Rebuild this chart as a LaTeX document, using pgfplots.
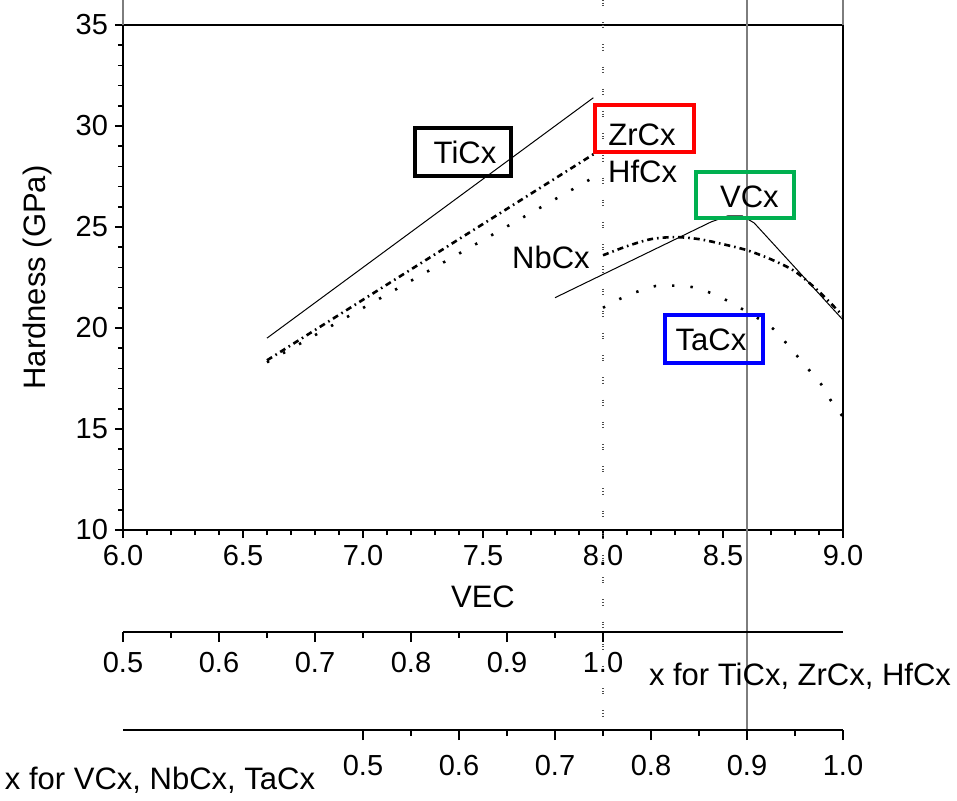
\documentclass[border=0pt]{standalone}
\usepackage{fontspec}
\setmainfont{Liberation Sans}
\usepackage{pgfplots}
\usepackage{pgfplotstable}
\pgfplotsset{compat=1.18}

\definecolor{boxred}{RGB}{255,0,0}
\definecolor{boxgreen}{RGB}{0,176,80}
\definecolor{boxblue}{RGB}{0,0,255}
\definecolor{refgray}{RGB}{125,125,125}

% Hardness vs. valence electron concentration (VEC)
\pgfplotstableread{
vec h
6.60 19.50
7.96 31.40
}\tic
\pgfplotstableread{
vec h
6.60 18.40
7.96 28.60
}\zrc
\pgfplotstableread{
vec h
6.60 18.30
7.96 27.45
}\hfc
\pgfplotstableread{
vec h
7.80 21.50
8.45 25.25
8.52 25.55
8.58 25.55
8.63 25.20
9.00 20.40
}\vc
\pgfplotstableread{
vec h
8.00 23.60
8.10 24.05
8.20 24.40
8.30 24.50
8.40 24.40
8.50 24.15
8.60 23.85
8.70 23.40
8.80 22.80
8.90 21.80
9.00 20.60
}\nbc
\pgfplotstableread{
vec h
8.00 21.00
8.07 21.44
8.15 21.83
8.22 22.08
8.29 22.10
8.37 22.03
8.45 21.73
8.52 21.34
8.58 20.94
8.65 20.45
8.71 19.95
8.76 19.30
8.81 18.60
8.86 17.90
8.91 17.20
8.95 16.40
9.00 15.60
}\tac

\pgfplotsset{
  dashdotline/.style={black, line width=1.3pt, dash pattern=on 3pt off 2pt on 0.8pt off 2pt},
  dotline/.style={black, line width=1.3pt, dash pattern=on 1.2pt off 8pt},
  thinline/.style={black, line width=0.5pt},
  xaux/.style={
    scale only axis, width=360pt, height=10pt, anchor=south west,
    ymin=0, ymax=1,
    axis x line*=bottom, axis y line=none,
    tick align=outside,
    major tick length=5pt, minor tick length=3pt,
    xtick={0.5,0.6,0.7,0.8,0.9,1.0},
    minor xtick={0.55,0.65,0.75,0.85,0.95},
    every tick/.style={black, line width=0.8pt},
    axis line style={line width=0.9pt},
    /pgf/number format/assume math mode=true,
    xticklabel style={font=\fontsize{14.5}{16}\selectfont,
      /pgf/number format/.cd, fixed, fixed zerofill, precision=1},
  },
}

\begin{document}
\begin{tikzpicture}[font=\fontsize{15.5}{18}\selectfont]
\begin{axis}[
  scale only axis, width=360pt, height=252.5pt,
  xmin=6, xmax=9, ymin=10, ymax=35,
  xtick={6,6.5,7,7.5,8,8.5,9}, minor x tick num=4,
  ytick={10,15,20,25,30,35}, minor y tick num=4,
  xtick pos=bottom, ytick pos=left, tick align=outside,
  major tick length=4pt, minor tick length=2.5pt,
  every tick/.style={black, line width=0.8pt},
  axis line style={line width=0.9pt},
  /pgf/number format/assume math mode=true,
  xticklabel style={font=\fontsize{14.5}{16}\selectfont,
    /pgf/number format/.cd, fixed, fixed zerofill, precision=1},
  yticklabel style={font=\fontsize{14.5}{16}\selectfont},
  xlabel={VEC}, ylabel={Hardness (GPa)},
  xlabel style={at={(axis description cs:0.5,-0.1327)}, anchor=center},
  ylabel style={at={(axis description cs:-0.1194,0.5)}, anchor=center},
  clip=false,
]
% reference lines at VEC = 8.0 and 8.6, and frame extensions
\addplot[color=black!70, line width=0.7pt,
  dash pattern=on 0.5pt off 0.8pt on 0.5pt off 0.8pt on 0.5pt off 8pt]
  coordinates {(8,36.24) (8,0.1)};
\addplot[refgray, line width=0.6pt] coordinates {(8.6,36.24) (8.6,0.1)};
\addplot[refgray, line width=0.7pt] coordinates {(6,35) (6,36.24)};
\addplot[refgray, line width=0.7pt] coordinates {(9,35) (9,36.24)};

% carbides
\addplot[thinline] table[x=vec, y=h] {\tic};
\addplot[dashdotline] table[x=vec, y=h] {\zrc};
\addplot[dotline] table[x=vec, y=h] {\hfc};
\addplot[thinline] table[x=vec, y=h] {\vc};
\addplot[dashdotline, smooth] table[x=vec, y=h] {\nbc};
\addplot[dotline, smooth] table[x=vec, y=h] {\tac};

% labels
\node[draw=black, line width=2pt, minimum width=48pt, minimum height=24pt]
  at (axis cs:7.4167,28.71) {};
\node at (axis cs:7.425,28.71) {TiCx};
\node[draw=boxred, line width=2pt, minimum width=49.5pt, minimum height=23.5pt]
  at (axis cs:8.173,29.88) {};
\node at (axis cs:8.1625,29.58) {ZrCx};
\node at (axis cs:8.165,27.77) {HfCx};
\node[draw=boxgreen, line width=2pt, minimum width=49pt, minimum height=23pt]
  at (axis cs:8.592,26.58) {};
\node at (axis cs:8.61,26.49) {VCx};
\node at (axis cs:7.783,23.47) {NbCx};
\node[draw=boxblue, line width=2pt, minimum width=49pt, minimum height=24pt]
  at (axis cs:8.4625,19.46) {};
\node at (axis cs:8.45,19.41) {TaCx};
\end{axis}

% composition scales: VEC = 4 + 4x (Ti, Zr, Hf) and VEC = 5 + 4x (V, Nb, Ta)
\begin{axis}[xaux, at={(0,-51pt)}, xmin=0.5, xmax=1.25,
  xticklabel shift=1.5pt]
\end{axis}
\begin{axis}[xaux, at={(0,-100pt)}, xmin=0.25, xmax=1.0,
  xticklabel shift=4pt]
\end{axis}

\node at (338.5pt,-73pt) {x for TiCx, ZrCx, HfCx};
\node at (18.5pt,-125pt) {x for VCx, NbCx, TaCx};

\pgfresetboundingbox
\useasboundingbox (-61.5pt,-135pt) rectangle (417pt,265pt);
\end{tikzpicture}
\end{document}
